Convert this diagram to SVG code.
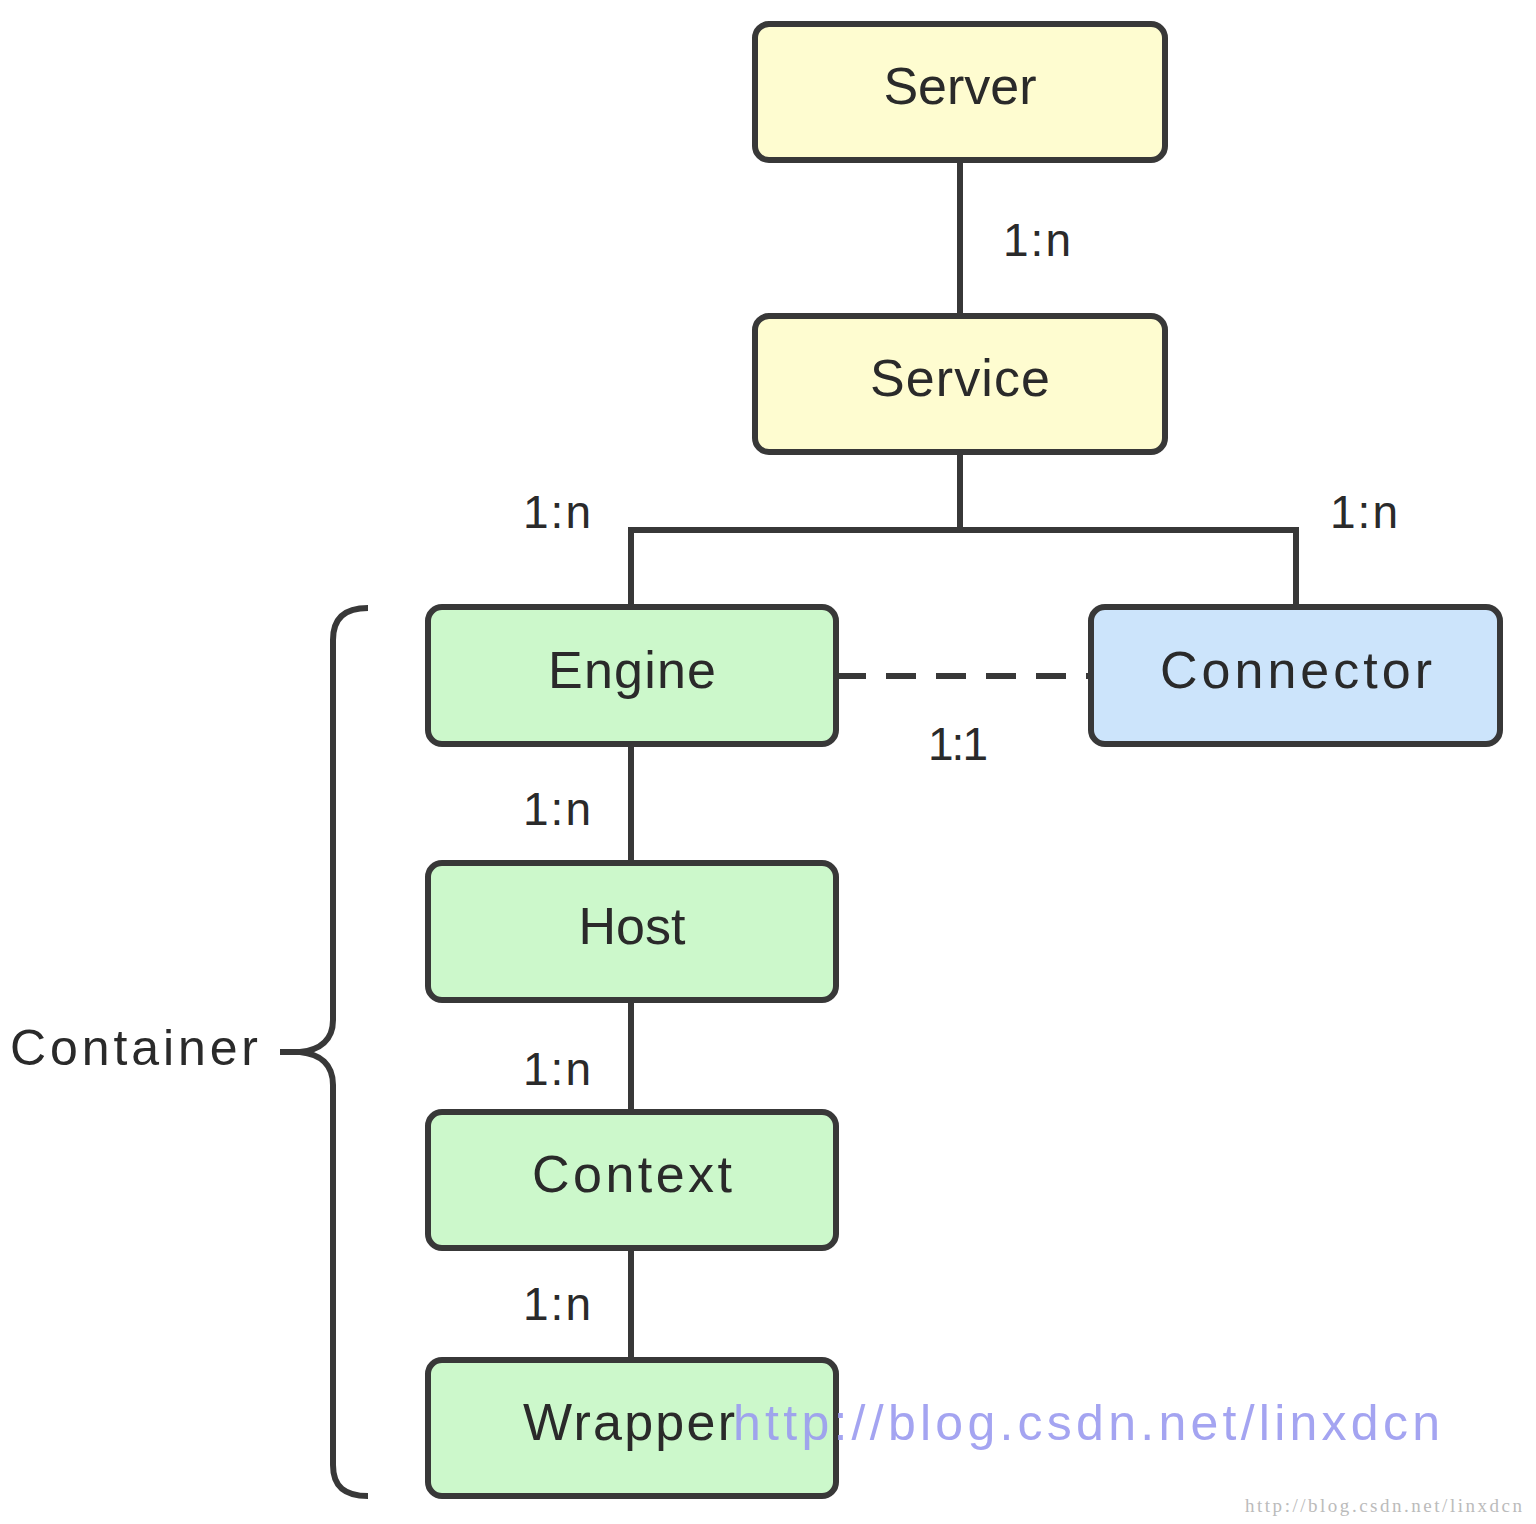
<svg xmlns="http://www.w3.org/2000/svg" width="1536" height="1524" viewBox="0 0 1536 1524">
<style>
.box{stroke:#383838;stroke-width:6}
.y{fill:#fefcd0}
.g{fill:#ccf8cb}
.b{fill:#cce4fb}
.t{font-family:"Liberation Sans",Arial,sans-serif;font-size:52px;fill:#2a2a2a;text-anchor:middle}
.l{font-family:"Liberation Sans",Arial,sans-serif;font-size:46px;fill:#2a2a2a}
.c{stroke:#383838;stroke-width:6;fill:none}
</style>
<rect width="1536" height="1524" fill="#ffffff"/>
<g id="connectors">
<line class="c" x1="960" y1="160" x2="960" y2="316"/>
<polyline class="c" points="960,452 960,530"/>
<polyline class="c" points="631,607 631,530 1296,530 1296,607"/>
<line class="c" x1="836" y1="676" x2="1091" y2="676" stroke-dasharray="30 20"/>
<line class="c" x1="631" y1="744" x2="631" y2="863"/>
<line class="c" x1="631" y1="1000" x2="631" y2="1112"/>
<line class="c" x1="631" y1="1248" x2="631" y2="1360"/>
<text class="l" x="1003" y="256" textLength="68">1:n</text>
<text class="l" x="523" y="528" textLength="68">1:n</text>
<text class="l" x="1330" y="528" textLength="68">1:n</text>
<text class="l" x="928" y="760" textLength="60">1:1</text>
<text class="l" x="523" y="825" textLength="68">1:n</text>
<text class="l" x="523" y="1085" textLength="68">1:n</text>
<text class="l" x="523" y="1320" textLength="68">1:n</text>
</g>
<g id="server"><rect class="box y" x="755" y="24" width="410" height="136" rx="14"/><text class="t" x="960" y="104">Server</text></g>
<g id="service"><rect class="box y" x="755" y="316" width="410" height="136" rx="14"/><text class="t" x="960" y="396" textLength="180">Service</text></g>
<g id="engine"><rect class="box g" x="428" y="607" width="408" height="137" rx="14"/><text class="t" x="632" y="688" textLength="168">Engine</text></g>
<g id="connector"><rect class="box b" x="1091" y="607" width="409" height="137" rx="14"/><text class="t" x="1296" y="688" textLength="272">Connector</text></g>
<g id="host"><rect class="box g" x="428" y="863" width="408" height="137" rx="14"/><text class="t" x="632" y="944">Host</text></g>
<g id="context"><rect class="box g" x="428" y="1112" width="408" height="136" rx="14"/><text class="t" x="632" y="1192" textLength="200">Context</text></g>
<g id="wrapper"><rect class="box g" x="428" y="1360" width="408" height="136" rx="14"/><text x="523" y="1440" font-family="'Liberation Sans',Arial,sans-serif" font-size="52" fill="#2a2a2a" textLength="212">Wrapper</text></g>
<g id="container">
<path class="c" stroke-width="5" d="M368,608 C345,608 333,618 333,640 L333,1020 C333,1040 320,1050 300,1052 L280,1052 M300,1052 C320,1054 333,1064 333,1085 L333,1465 C333,1487 345,1496 368,1496"/>
<text x="10" y="1065" font-family="'Liberation Sans',Arial,sans-serif" font-size="50" fill="#2a2a2a" textLength="248">Container</text>
</g>
<text x="733" y="1440" font-family="'Liberation Sans',Arial,sans-serif" font-size="50" fill="#9a9af0" fill-opacity="0.9" textLength="707">http://blog.csdn.net/linxdcn</text>
<text x="1245" y="1512" font-family="'Liberation Serif','Times New Roman',serif" font-size="19" fill="#bbbbbb" textLength="277">http://blog.csdn.net/linxdcn</text>
</svg>
